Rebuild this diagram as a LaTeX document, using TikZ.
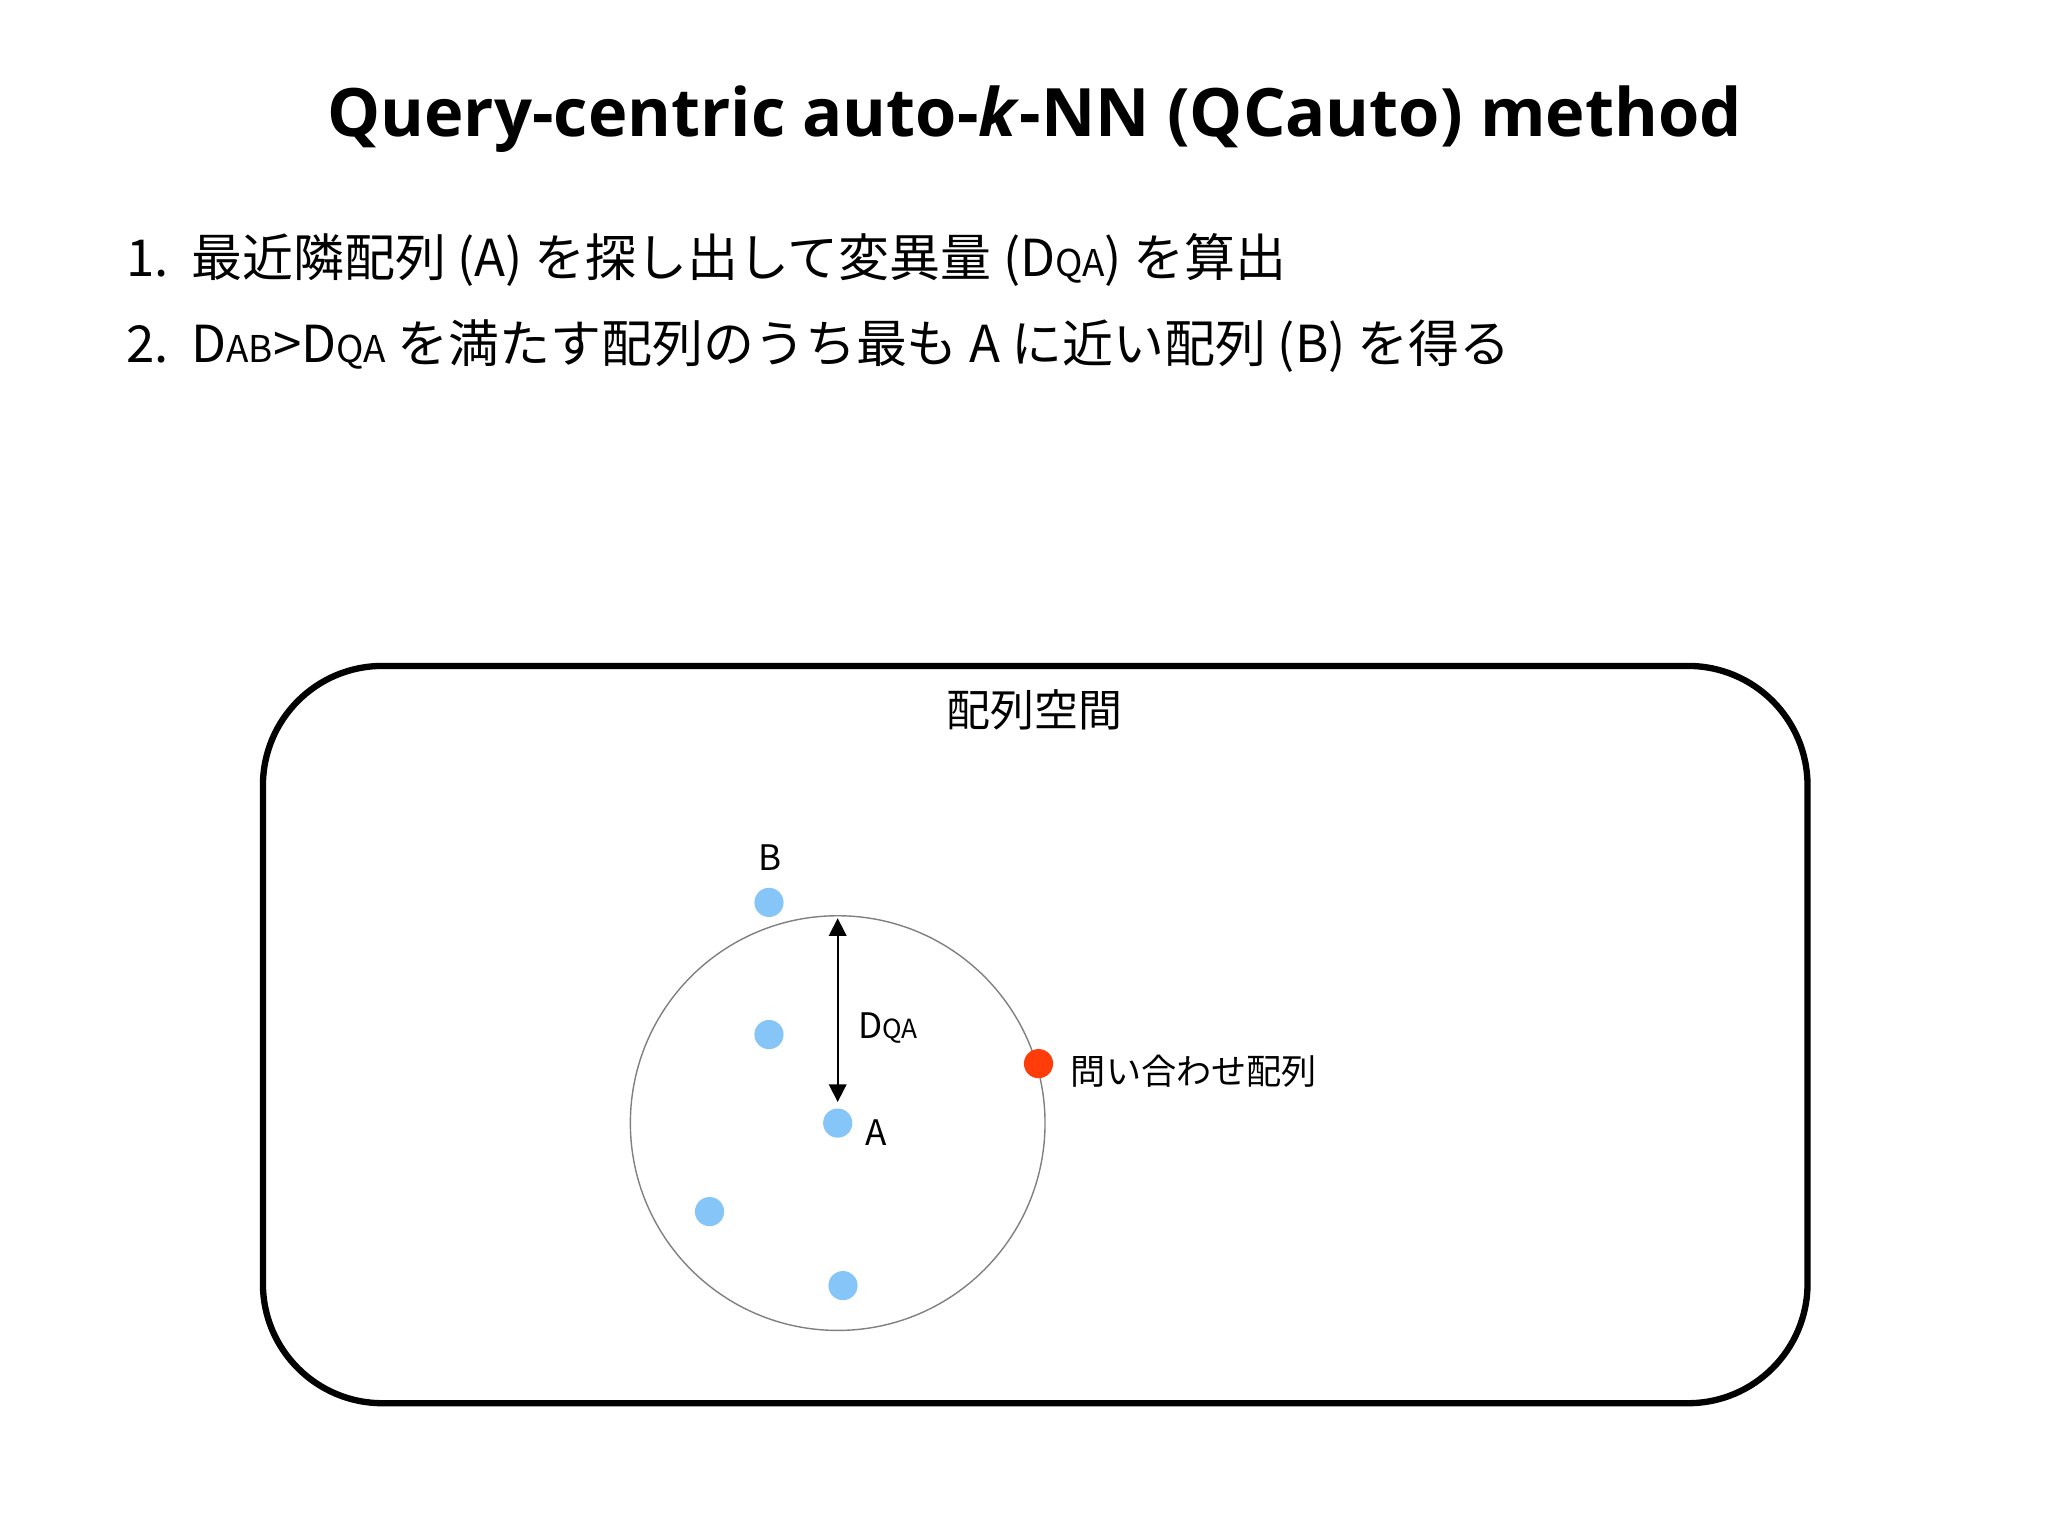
\documentclass[tikz,border=0pt]{standalone}
\usepackage{fontspec}
\usetikzlibrary{arrows.meta}
\setmainfont{Open Sans}
\newfontfamily\jp{Noto Sans CJK JP}
\definecolor{dotblue}{HTML}{86C5F7}
\definecolor{qred}{HTML}{FF3D0A}
\begin{document}
\begin{tikzpicture}[x=0.013213cm,y=-0.013213cm,
  pt/.style={circle,fill=dotblue,inner sep=0,minimum size=8.3pt},
  lab/.style={inner sep=0,font=\jp\fontsize{10}{12}\selectfont}]
\useasboundingbox (0,0) rectangle (1550,1162);
\node (title) at (783,90) {\fontsize{19}{23}\selectfont\bfseries Query-centric auto-\textit{k}-NN (QCauto) method};
\node[anchor=west,inner sep=0] (l1) at (95,197) {\jp\fontsize{14.5}{17}\selectfont 1.\ \ 最近隣配列 (A) を探し出して変異量 (D{\fontsize{10.5}{12}\selectfont QA}) を算出};
\node[anchor=west,inner sep=0] (l2) at (95,262) {\jp\fontsize{14.5}{17}\selectfont 2.\ \ D{\fontsize{10.5}{12}\selectfont AB}>D{\fontsize{10.5}{12}\selectfont QA} を満たす配列のうち最も A に近い配列 (B) を得る};
\draw[line width=1.8pt,rounded corners=34pt] (199,504) rectangle (1368,1062);
\node[lab,font=\jp\fontsize{12.5}{15}\selectfont] (space) at (783,537) {配列空間};
\node[circle,draw=gray,line width=0.4pt,minimum size=118pt,inner sep=0] (c) at (634,850) {};
\node[pt] (B) at (582,683) {};
\node[pt] (p2) at (582,783) {};
\node[pt] (A) at (634,850) {};
\node[pt] (p4) at (537,917) {};
\node[pt] (p5) at (638,973) {};
\node[circle,fill=qred,inner sep=0,minimum size=8.3pt] (Q) at (786,805) {};
\node[lab] (lB) at (583,649) {B};
\node[lab] (lA) at (663,857) {A};
\node[lab,anchor=west] (lD) at (649,778) {D{\fontsize{7.5}{9}\selectfont QA}};
\node[lab,anchor=west] (lQ) at (810,811) {問い合わせ配列};
\coordinate (t) at (634,695);
\coordinate (b) at (634,834);
\draw[{Triangle[length=5pt,width=5pt]}-{Triangle[length=5pt,width=5pt]},line width=0.5pt] (t) -- (b);
\end{tikzpicture}
\end{document}
